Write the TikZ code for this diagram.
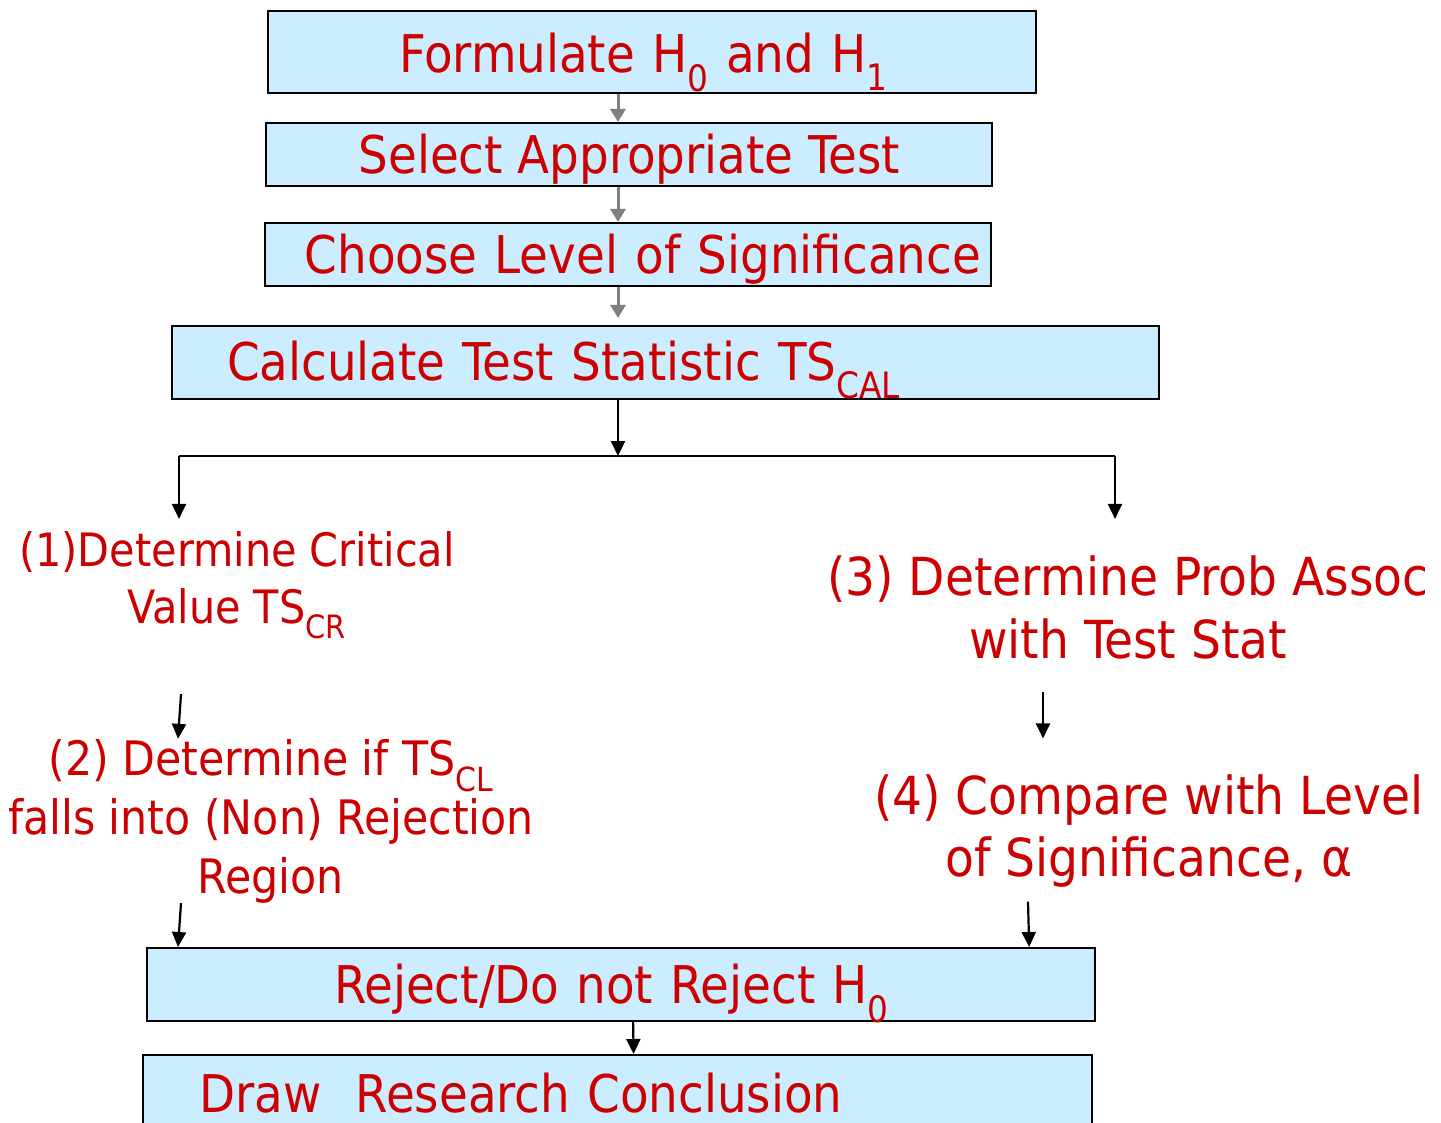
\documentclass[tikz,border=0pt]{standalone}
\usepackage{fontspec}
\setmainfont{DejaVu Sans Condensed}
\usepackage{xcolor}
\usetikzlibrary{positioning, arrows.meta}
\definecolor{boxblue}{HTML}{CCECFF}
\definecolor{stepred}{HTML}{CC0000}
\tikzstyle{line} = [draw, -{Triangle[length=15, width=14]}, line width=2.2]
\tikzstyle{feed} = [draw=gray, -{Triangle[length=13, width=15]}, line width=3]
\tikzstyle{block} = [rectangle, draw, line width=2.2, fill=boxblue, text=stepred,
    font=\fontsize{52}{62}\selectfont, anchor=north west, inner sep=0pt,
    text height=38, text depth=0]
\tikzstyle{note} = [text=stepred, align=center, inner sep=0pt]

\begin{document}
\begin{tikzpicture}[x=1pt, y=-1pt]
        \useasboundingbox (0,0) rectangle (1441,1123);
        % Place boxes
        \node [block, minimum height=82, inner xsep=131, text width=506, align=left, text height=41] (formulate) at (267,10) {Formulate H\textsubscript{0} and H\textsubscript{1}};
        \node [block, minimum width=726, minimum height=63] (select) at (265,122) {Select Appropriate Test};
        \node [block, minimum height=63, inner xsep=10, text width=706, align=right] (level) at (264,222) {Choose Level of Significance};
        \node [block, minimum height=73, inner xsep=55, text width=877, align=left, text height=35] (calc) at (171,325) {Calculate Test Statistic TS\textsubscript{CAL}};
        \node [block, minimum height=73, inner xsep=187, text width=574, align=left] (decision) at (146,947) {Reject/Do not Reject H\textsubscript{0}};
        \node [block, minimum height=76, inner xsep=56, text width=837, align=left] (conclude) at (142,1054) {Draw\ \ Research Conclusion};
        % Place the two routes
        \node [note, font=\fontsize{46}{57}\selectfont, inner ysep=12] (critical) at (237,585) {(1)Determine Critical\\Value TS\textsubscript{CR}};
        \node [note, font=\fontsize{47.5}{59}\selectfont] (region) at (271,821) {(2) Determine if TS\textsubscript{CL}\\falls into (Non) Rejection\\Region};
        \node [note, font=\fontsize{52.4}{63}\selectfont] (pvalue) at (1128,607) {(3) Determine Prob Assoc\\with Test Stat};
        \node [note, font=\fontsize{52.4}{62}\selectfont] (compare) at (1149,831) {(4) Compare with Level\\of Significance, α};
        % Fork points
        \coordinate (spine) at (618,0);
        \coordinate (fork) at (618,456);
        \coordinate (lfork) at (179,456);
        \coordinate (rfork) at (1115,456);
        % Draw edges
        \path [feed] (formulate.south -| spine) -- (select.north -| spine);
        \path [feed] (select.south -| spine) -- (level.north -| spine);
        \path [feed] (level.south -| spine) -- ([yshift=7]calc.north -| spine);
        \path [line] (calc.south -| spine) -- (fork);
        \draw [line width=2.2] (lfork) -- (rfork);
        \path [line] (lfork) -- (critical.north -| lfork);
        \path [line] (rfork) -- (critical.north -| rfork);
        \path [line] ([xshift=-56, yshift=-43]critical.south) -- ([xshift=-93]region.north);
        \path [line] ([xshift=-85, yshift=-33]pvalue.south) -- ([xshift=-106, yshift=36]compare.north);
        \path [line] ([xshift=-90]region.south) -- ([xshift=32]decision.north west);
        \path [line] ([xshift=-121, yshift=-14]compare.south) -- ([xshift=-67]decision.north east);
        \path [line] ([xshift=12]decision.south) -- ([xshift=16]conclude.north);
      \end{tikzpicture}
\end{document}
